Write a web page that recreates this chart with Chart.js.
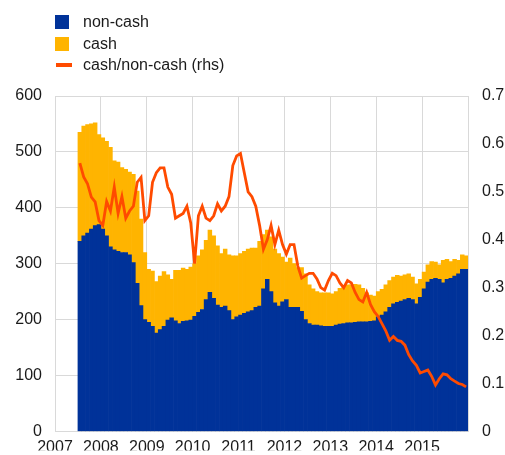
<!DOCTYPE html>
<html>
<head>
<meta charset="utf-8">
<script src="https://cdn.jsdelivr.net/npm/chart.js@4.4.0/dist/chart.umd.min.js"></script>
<style>
  html, body { margin: 0; padding: 0; background: #fff; }
  #wrap { position: relative; width: 505px; height: 455px; }
  #legend { position: absolute; left: 55px; top: 15px; font: 16px "Liberation Sans", Arial, sans-serif; color: #1a1a1a; }
  .item { position: relative; height: 21.5px; line-height: 14px; padding-left: 28px; white-space: nowrap; }
  .swatch { position: absolute; left: 0; top: 0; width: 14px; height: 14px; }
  .dash { position: absolute; left: 1px; top: 5px; width: 16px; height: 4px; }
</style>
</head>
<body>
<div id="wrap">
  <canvas id="chart" width="505" height="455"></canvas>
  <div id="legend">
    <div class="item"><span class="swatch" style="background:#003299"></span>non-cash</div>
    <div class="item"><span class="swatch" style="background:#ffb400"></span>cash</div>
    <div class="item"><span class="dash" style="background:#ff4b00"></span>cash/non-cash (rhs)</div>
  </div>
</div>
<script>
// monthly observations, July 2007 - December 2015 (EUR bn)
const firstMonth = 2007.5; // July 2007 as decimal year

const nonCash = [
  340, 350, 355, 362, 368, 370,
  362, 350, 330, 325, 322, 320, 320, 316, 302, 265, 225, 200,
  195, 188, 176, 182, 188, 199, 203, 198, 193, 197, 198, 199,
  206, 213, 218, 236, 249, 238, 226, 222, 224, 216, 200, 205,
  208, 211, 214, 216, 222, 224, 255, 272, 250, 230, 224, 232,
  236, 222, 222, 222, 215, 200, 193, 190, 190, 189, 188, 188,
  188, 190, 192, 193, 194, 194, 195, 196, 196, 196, 197, 198,
  205, 208, 214, 222, 228, 231, 233, 236, 238, 236, 228, 240,
  255, 267, 272, 274, 272, 266, 272, 274, 278, 282, 290, 290
];

const cash = [
  195, 196, 194, 188, 184, 161,
  163, 169, 178, 159, 160, 152, 149, 148, 158, 165, 155, 120,
  95, 99, 92, 96, 98, 81, 69, 90, 95, 95, 92, 95,
  94, 101, 107, 106, 111, 112, 106, 96, 102, 100, 114, 109,
  110, 111, 112, 112, 106, 116, 97, 88, 98, 96, 94, 80,
  67, 88, 78, 71, 78, 82, 69, 65, 60, 59, 60, 60,
  58, 60, 64, 65, 68, 68, 68, 66, 60, 52, 47, 44,
  45, 46, 48, 48, 48, 48, 45, 44, 44, 40, 36, 32,
  30, 31, 32, 29, 26, 40, 36, 30, 30, 24, 26, 24
];

// cash/non-cash ratio, right-hand scale
const ratio = [
  0.56, 0.531, 0.517, 0.489, 0.479, 0.44,
  0.43, 0.48, 0.46, 0.51, 0.455, 0.49, 0.445, 0.46, 0.47, 0.52, 0.53, 0.44,
  0.45, 0.52, 0.54, 0.55, 0.55, 0.51, 0.495, 0.445, 0.45, 0.455, 0.47, 0.435,
  0.35, 0.45, 0.47, 0.445, 0.44, 0.45, 0.475, 0.46, 0.47, 0.49, 0.555, 0.575,
  0.58, 0.54, 0.50, 0.49, 0.47, 0.43, 0.38, 0.40, 0.43, 0.39, 0.42, 0.39,
  0.37, 0.39, 0.39, 0.345, 0.32, 0.325, 0.33, 0.33, 0.318, 0.30, 0.295, 0.315,
  0.33, 0.325, 0.31, 0.30, 0.315, 0.31, 0.29, 0.275, 0.27, 0.29, 0.265, 0.25,
  0.24, 0.225, 0.21, 0.19, 0.198, 0.19, 0.188, 0.18, 0.16, 0.147, 0.138, 0.122,
  0.125, 0.128, 0.115, 0.097, 0.11, 0.12, 0.118, 0.11, 0.105, 0.10, 0.098, 0.093
];

const years = [2007, 2008, 2009, 2010, 2011, 2012, 2013, 2014, 2015];

const monthX = nonCash.map((_, i) => firstMonth + (i + 0.5) / 12);
const toPoints = (vals) => vals.map((v, i) => ({ x: monthX[i], y: v }));

const gridColor = "#d9d9d9";
const textColor = "#1a1a1a";
Chart.defaults.font.family = '"Liberation Sans", Arial, sans-serif';
Chart.defaults.font.size = 16;
Chart.defaults.color = textColor;

new Chart(document.getElementById("chart"), {
  type: "bar",
  data: {
    datasets: [
      {
        type: "bar",
        label: "non-cash",
        data: toPoints(nonCash),
        backgroundColor: "#003299",
        borderWidth: 0,
        stack: "s",
        order: 1,
        yAxisID: "y",
        barPercentage: 1,
        categoryPercentage: 1,
      },
      {
        type: "bar",
        label: "cash",
        data: toPoints(cash),
        backgroundColor: "#ffb400",
        borderWidth: 0,
        stack: "s",
        order: 1,
        yAxisID: "y",
        barPercentage: 1,
        categoryPercentage: 1,
      },
      {
        type: "line",
        label: "cash/non-cash (rhs)",
        data: toPoints(ratio),
        borderColor: "#ff4b00",
        borderWidth: 2.8,
        pointRadius: 0,
        tension: 0,
        order: 0,
        yAxisID: "y1",
      },
    ],
  },
  options: {
    responsive: false,
    animation: false,
    layout: { padding: { top: 96, left: 0, right: 0, bottom: 0 } },
    plugins: { legend: { display: false }, tooltip: { enabled: false } },
    scales: {
      x: {
        type: "linear",
        min: 2007,
        max: 2016,
        offset: false,
        grid: { color: gridColor, drawTicks: false, offset: false },
        border: { color: gridColor },
        ticks: {
          stepSize: 1,
          autoSkip: false,
          maxRotation: 0,
          padding: 7,
          callback: (v) => (years.includes(v) ? String(v) : ""),
        },
        afterFit: (s) => { s.height = 19; },
      },
      y: {
        position: "left",
        stacked: true,
        min: 0,
        max: 600,
        grid: { color: gridColor, drawTicks: false },
        border: { color: gridColor },
        ticks: { stepSize: 100, padding: 13 },
        afterFit: (s) => { s.width = 55; },
      },
      y1: {
        position: "right",
        min: 0,
        max: 0.7,
        grid: { drawOnChartArea: false, drawTicks: false },
        border: { color: gridColor },
        ticks: { stepSize: 0.1, padding: 14 },
        afterFit: (s) => { s.width = 37; },
      },
    },
  },
});
</script>
</body>
</html>
